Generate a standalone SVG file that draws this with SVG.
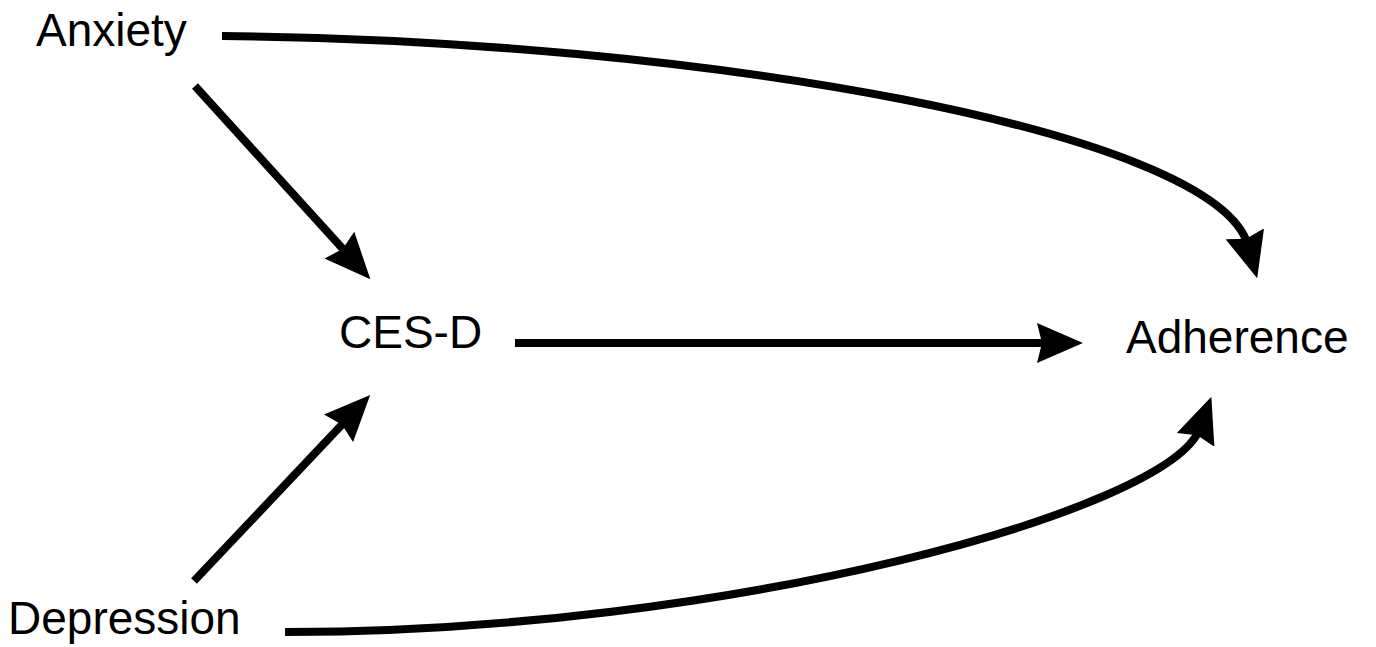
<svg xmlns="http://www.w3.org/2000/svg" width="1376" height="647" viewBox="0 0 1376 647">
  <style>
    .lbl { font-family: "Liberation Sans", Arial, Helvetica, sans-serif; font-size: 46px; fill: #000; }
    .edge { fill: none; stroke: #000; stroke-width: 8; stroke-linecap: butt; }
  </style>
  <defs>
    <marker id="arrow" markerUnits="userSpaceOnUse" viewBox="0 0 46 40" markerWidth="46" markerHeight="40" refX="12" refY="20" orient="auto">
      <path d="M0,0 L46,20 L0,40 L5,20 Z" fill="#000"/>
    </marker>
  </defs>
  <rect width="1376" height="647" fill="#fff"/>
  <g id="connectors">
    <path class="edge" d="M222,36 C700,40 1216,131 1248,245.4" marker-end="url(#arrow)"/>
    <path class="edge" d="M195,86 L347.5,254" marker-end="url(#arrow)"/>
    <path class="edge" d="M194,581 L346.8,419.6" marker-end="url(#arrow)"/>
    <path class="edge" d="M515,343 L1049,343" marker-end="url(#arrow)"/>
    <path class="edge" d="M285,632 C730,632 1170,510 1199.7,428.6" marker-end="url(#arrow)"/>
  </g>
  <g id="node-anxiety"><text class="lbl" x="36" y="46">Anxiety</text></g>
  <g id="node-cesd"><text class="lbl" x="339" y="348">CES-D</text></g>
  <g id="node-adherence"><text class="lbl" x="1126" y="353">Adherence</text></g>
  <g id="node-depression"><text class="lbl" x="8" y="634">Depression</text></g>
</svg>
